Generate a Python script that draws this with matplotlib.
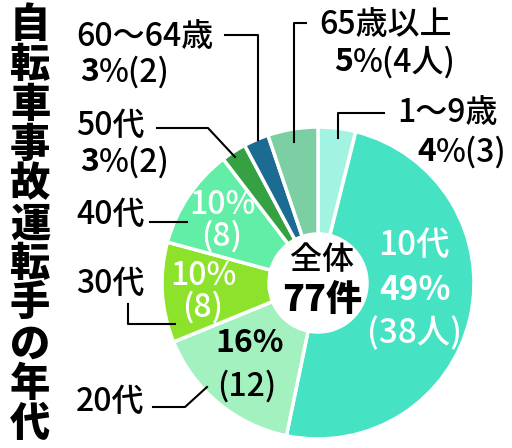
import matplotlib.pyplot as plt

plt.rcParams['font.family'] = ['Noto Sans CJK JP', 'DejaVu Sans']

# data (clockwise from 12 o'clock)
groups = ['1〜9歳', '10代', '20代', '30代', '40代', '50代', '60〜64歳', '65歳以上']
counts = [3, 38, 12, 8, 8, 2, 2, 4]
colors = ['#a3f3e2', '#46e2c4', '#a2f1bf', '#8de32c', '#62eea6',
          '#36a143', '#1c6b93', '#7ccfa3']
total = sum(counts)
pct = [round(c / total * 100) for c in counts]
title = '自転車事故運転手の年代'

H = 448


def Y(y):
    return H - y


fig = plt.figure(figsize=(5.12, 4.48), dpi=100)
ax = fig.add_axes([0, 0, 1, 1])
ax.set_xlim(0, 512)
ax.set_ylim(0, H)
ax.axis('off')

cx, cy, R, r_in = 318, 283, 156, 49
ax.pie(counts, colors=colors, startangle=90, counterclock=False,
       center=(cx, Y(cy)), radius=R,
       wedgeprops=dict(width=R - r_in, edgecolor='white', linewidth=2.5))
ax.set_xlim(0, 512)
ax.set_ylim(0, H)

# vertical title
for i, ch in enumerate(title):
    ax.text(30, Y(25 + i * 39.9), ch, fontsize=29, fontweight='black',
            ha='center', va='center')

fs = 23
lc = dict(color='black', lw=1.5)


def split_label(x, y, num, rest):
    ax.text(x, Y(y), num, fontsize=fs, fontweight='bold', ha='right', va='center')
    ax.text(x, Y(y), rest, fontsize=fs, fontweight='medium', ha='left', va='center')


def lab(x, y, s, **kw):
    kw.setdefault('fontsize', fs)
    kw.setdefault('fontweight', 'medium')
    kw.setdefault('va', 'center')
    ax.text(x, Y(y), s, **kw)


# 60〜64歳
lab(76, 37, groups[6], ha='left')
split_label(99, 72, str(pct[6]), f'%({counts[6]})')
ax.plot([225, 258, 258], [Y(35), Y(35), Y(140)], **lc)

# 65歳以上
lab(452, 25, groups[7], ha='right')
split_label(353, 62, str(pct[7]), f'%({counts[7]}人)')
ax.plot([306, 294, 294], [Y(23), Y(23), Y(142)], **lc)

# 1〜9歳
lab(498, 113, groups[0], ha='right')
split_label(436, 152, str(pct[0]), f'%({counts[0]})')
ax.plot([384, 338, 338], [Y(113), Y(113), Y(138)], **lc)

# 50代
lab(76, 126, groups[5], ha='left')
split_label(99, 162, str(pct[5]), f'%({counts[5]})')
ax.plot([157, 208, 235], [Y(128), Y(128), Y(157)], **lc)

# 40代
lab(76, 215, groups[4], ha='left')
ax.plot([150, 187], [Y(222), Y(222)], **lc)
lab(222, 205, f'{pct[4]}%', color='white', ha='center')
lab(222, 236, f'({counts[4]})', color='white', ha='center')

# 30代
lab(76, 284, groups[3], ha='left')
ax.plot([128, 128, 175], [Y(304), Y(324), Y(324)], **lc)
lab(203, 276, f'{pct[3]}%', color='white', ha='center')
lab(203, 307, f'({counts[3]})', color='white', ha='center')

# 20代
lab(76, 402, groups[2], ha='left')
ax.plot([153, 185, 207], [Y(407), Y(407), Y(387)], **lc)
lab(250, 343, f'{pct[2]}%', fontweight='bold', ha='center')
lab(247, 386, f'({counts[2]})', ha='center')

# 10代
lab(414, 245, groups[1], color='white', ha='center', fontsize=fs + 1)
lab(415, 291, f'{pct[1]}%', fontweight='bold', color='white', ha='center', fontsize=fs + 1)
lab(415, 334, f'({counts[1]}人)', color='white', ha='center', fontsize=fs + 1)

# center
lab(322, 260, '全体', ha='center')
lab(322, 300, f'{total}件', fontsize=fs + 3, fontweight='black', ha='center')

fig.savefig('out.png', dpi=100)
